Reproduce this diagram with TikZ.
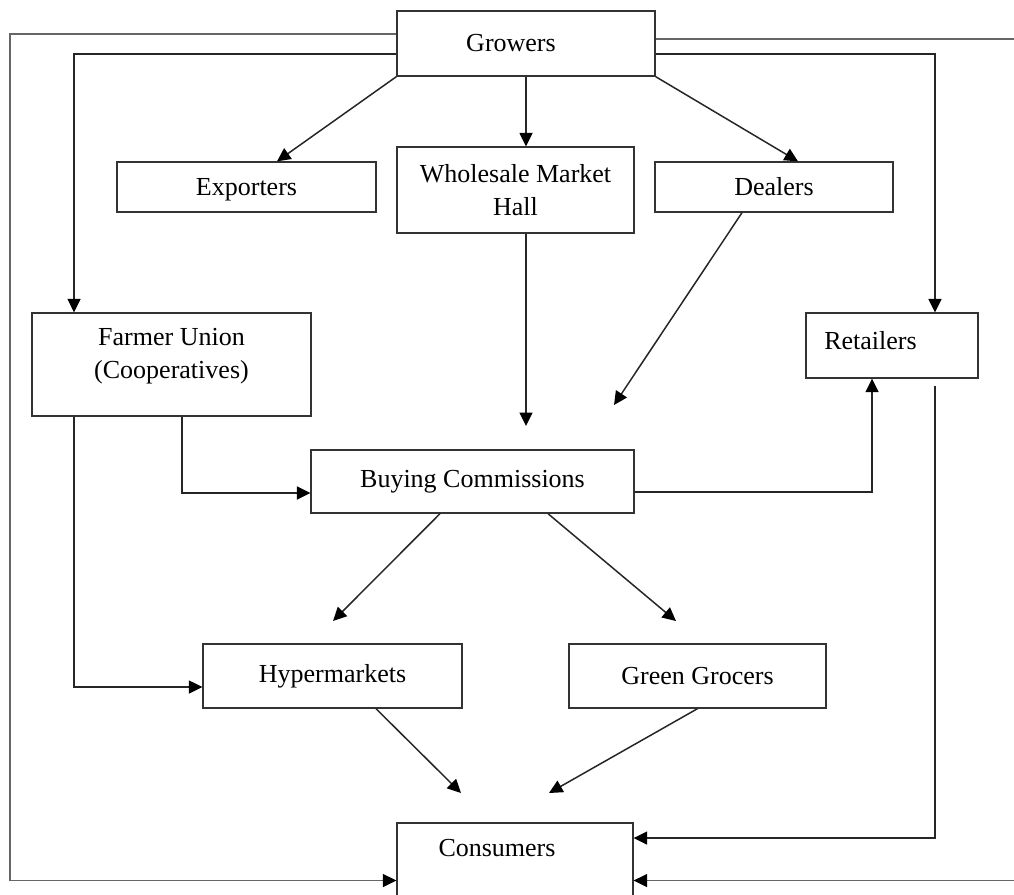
\documentclass[tikz,border=0pt]{standalone}
\usepackage{fontspec}
\setmainfont{Liberation Serif}
\usetikzlibrary{arrows.meta}
\begin{document}
\begin{tikzpicture}[x=0.02cm,y=-0.02cm,
        box/.style={draw=black!80,line width=0.75pt,rectangle,inner sep=0pt,align=center,font=\fontsize{14.8pt}{19pt}\selectfont},
        arr/.style={line width=0.85pt,black!85,-{Triangle[length=0.27cm,width=0.26cm,color=black]}}]
        \useasboundingbox (0,0) rectangle (1014,894);
        \clip (0,0) rectangle (1014,894);
        \node[box,minimum width=5.16cm,minimum height=1.3cm] (gro) at (526,43.5){Growers\hspace{0.6cm}};
        \node[box,minimum width=5.18cm,minimum height=1cm,text depth=0.02cm] (exp) at (246.5,187){Exporters};
        \node[box,minimum width=4.74cm,minimum height=1.72cm] (wh) at (515.5,190){Wholesale Market\\Hall};
        \node[box,minimum width=4.76cm,minimum height=1cm] (dea) at (774,187){Dealers};
        \node[box,minimum width=5.58cm,minimum height=2.06cm,text depth=0.45cm] (fu) at (171.5,364.5){Farmer Union\\(Cooperatives)};
        \node[box,minimum width=3.44cm,minimum height=1.3cm,text depth=0.22cm] (ret) at (892,345.5){Retailers\hspace{0.86cm}};
        \node[box,minimum width=6.46cm,minimum height=1.26cm] (bc) at (472.5,481.5){Buying Commissions};
        \node[box,minimum width=5.18cm,minimum height=1.28cm] (hyp) at (332.5,676){Hypermarkets};
        \node[box,minimum width=5.14cm,minimum height=1.28cm] (gg) at (697.5,676){Green Grocers};
        \node[box,minimum width=4.72cm,minimum height=2.3cm,text depth=1.3cm] (cons) at (515,880.5){Consumers\hspace{0.72cm}};
        \coordinate (whend) at (526,426);
        \coordinate (deaend) at (614,405);
        \coordinate (hypin) at (333,621);
        \coordinate (ggin) at (676,621);
        \coordinate (hypout) at (461,793);
        \coordinate (ggout) at (549,793);
        \draw[arr,black!60] ([yshift=.19cm]gro.west) -| (10,880.5) -- (cons.west);
        \draw[arr] ([yshift=-.21cm]gro.west) -| ([xshift=-1.95cm]fu.north);
        \draw[arr,black!60] ([yshift=.09cm]gro.east) -| (1020,880.5) -- (cons.east);
        \draw[arr] ([yshift=-.21cm]gro.east) -| ([xshift=.86cm]ret.north);
        \draw[arr] (gro.south west) -- ([xshift=.61cm]exp.north);
        \draw[arr] (gro.south) -- (gro.south |- wh.north);
        \draw[arr] (gro.south east) -- ([xshift=.48cm]dea.north);
        \draw[arr] (gro.south |- wh.south) -- (whend);
        \draw[arr] ([xshift=-.64cm]dea.south) -- (deaend);
        \draw[arr] ([xshift=.21cm]fu.south) |- ([yshift=-.23cm]bc.west);
        \draw[arr] ([xshift=-1.95cm]fu.south) |- ([yshift=-.22cm]hyp.west);
        \draw[arr] ([yshift=-.21cm]bc.east) -| ([xshift=-.4cm]ret.south);
        \draw[arr] ([xshift=.86cm,yshift=-.14cm]ret.south) |- ([yshift=.85cm]cons.east);
        \draw[arr] ([xshift=-.65cm]bc.south) -- (hypin);
        \draw[arr] ([xshift=1.51cm]bc.south) -- (ggin);
        \draw[arr] ([xshift=.87cm]hyp.south) -- (hypout);
        \draw[arr] (gg.south) -- (ggout);
    \end{tikzpicture}
\end{document}
